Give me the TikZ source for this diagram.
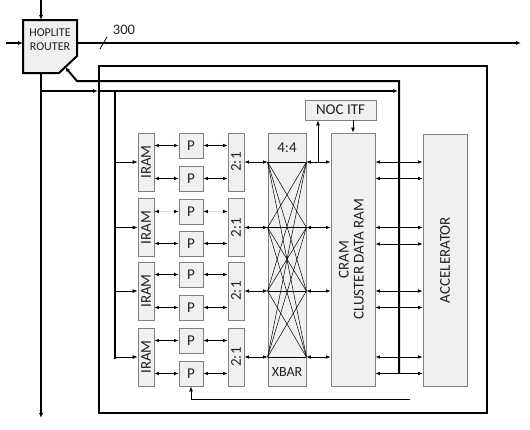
\documentclass[tikz,border=0pt]{standalone}
\usepackage{fontspec}
\setmainfont{Carlito}
\usetikzlibrary{arrows.meta,calc}
\definecolor{boxfill}{HTML}{F0F0F0}
\definecolor{boxline}{HTML}{7F7F7F}
\definecolor{txt}{HTML}{222222}
\begin{document}
\begin{tikzpicture}[x=1pt,y=-1pt,
  blk/.style={draw=boxline,fill=boxfill,line width=0.8pt,inner sep=0pt,text=txt,font=\fontsize{15}{16}\selectfont},
  thk/.style={line width=2pt},
  med/.style={line width=1.4pt},
  thn/.style={line width=0.8pt},
  tip/.style={-{Latex[length=5pt,width=4pt]}},
  dbl/.style={{Latex[length=4.5pt,width=3.6pt]}-{Latex[length=4.5pt,width=3.6pt]},line width=0.8pt},
  faint/.style={{Latex[length=4.5pt,width=3.6pt,black]}-{Latex[length=4.5pt,width=3.6pt,black]},line width=0.8pt,draw=black!12},
  lbl/.style={inner sep=0pt,text=txt}
]
\useasboundingbox (0,0) rectangle (530,429);
\fill[white] (0,0) rectangle (530,429);

% router
\draw[thk,fill=boxfill] (23,20) -- (77,20) -- (77,56) -- (59,73) -- (23,73) -- cycle;
\node[lbl,align=center,font=\fontsize{12}{14}\selectfont] (router) at (50,40) {HOPLITE\\ROUTER};
\coordinate (rtop) at (41,20);
\coordinate (rtopin) at (41,0);
\coordinate (rleft) at (23,43);
\coordinate (rleftin) at (6,43);
\coordinate (rright) at (77,43);
\coordinate (rout) at (521,43);
\coordinate (rbot) at (41,73);
\coordinate (rdown) at (41,418);
\coordinate (rin) at (65,67);
\coordinate (rbend) at (77,81);
\coordinate (tapcorner) at (399,81);
\coordinate (tapbot) at (399,373);
\coordinate (br) at (41,91);
\coordinate (brmid) at (98,91);
\coordinate (brend) at (398,91);
\coordinate (bus) at (115,91);
\coordinate (busbot) at (115,359);

\draw[thk,tip] (rtopin) -- (rtop);
\draw[thk,tip] (rleftin) -- (rleft);
\draw[thk,tip] (rright) -- (rout);
\draw[thk,tip] (rbot) -- (rdown);
\draw[thk,tip] (tapbot) -- (tapcorner) -- (rbend) -- (rin);
\draw[med,tip] (br) -- (brmid);
\draw[med,tip] (brmid) -- (brend);
\draw[thk] (bus) -- (busbot);

% 300 label
\coordinate (s1) at (100,49);
\coordinate (s2) at (107,37);
\draw[thn] (s1) -- (s2);
\node[lbl,font=\fontsize{14.5}{16}\selectfont] (n300) at (124,30) {300};

% outer box
\draw[thk] (99,66) rectangle (487,413);

% big blocks
\node[blk,minimum width=38pt,minimum height=253pt] (xbar) at (287,259.5) {};
\node[lbl,font=\fontsize{15}{16}\selectfont] (x44) at (287,148) {4:4};
\node[lbl,font=\fontsize{14}{16}\selectfont] (xbl) at (287,372) {XBAR};
\node[blk,minimum width=44pt,minimum height=253pt] (cram) at (353,259.5) {\rotatebox{90}{\begin{tabular}{@{}c@{}}CRAM\\[-1pt]CLUSTER DATA RAM\end{tabular}}};
\node[blk,minimum width=44pt,minimum height=252pt] (acc) at (445,260) {\rotatebox{90}{ACCELERATOR}};
\node[blk,minimum width=71pt,minimum height=20pt] (noc) at (340.5,110) {NOC ITF};

% groups
\foreach \g/\yc/\ya/\yb in {1/162/145.5/178.5,2/227.5/211.5/243.5,3/291/274.5/307.5,4/357/340.5/373.5}{
  \node[blk,minimum width=16pt,minimum height=58pt] (iram\g) at (146,\yc) {\rotatebox{90}{IRAM}};
  \node[blk,minimum width=16pt,minimum height=58pt] (mux\g) at (236,\yc) {\rotatebox{90}{2:1}};
  \node[blk,minimum width=24pt,minimum height=25pt] (pa\g) at (191,\ya) {P};
  \node[blk,minimum width=24pt,minimum height=25pt] (pb\g) at (191,\yb) {P};
  \draw[thn,tip] (iram\g.west -| bus) -- (iram\g.west);
  \ifnum\g=2
    \draw[faint] (pa\g.west -| iram\g.east) -- (pa\g.west);
    \draw[faint] (pa\g.east) -- (pa\g.east -| mux\g.west);
  \else
    \draw[dbl] (pa\g.west -| iram\g.east) -- (pa\g.west);
    \draw[dbl] (pa\g.east) -- (pa\g.east -| mux\g.west);
  \fi
  \draw[dbl] (pb\g.west -| iram\g.east) -- (pb\g.west);
  \draw[dbl] (pb\g.east) -- (pb\g.east -| mux\g.west);
  \draw[dbl] (mux\g.east) -- (mux\g.east -| xbar.west);
  \draw[dbl] (mux\g.east -| xbar.east) -- (mux\g.east -| cram.west);
  \draw[dbl] (mux\g.east -| cram.east) -- (mux\g.east -| acc.west);
  \draw[dbl] ($(mux\g.east -| cram.east)+(0,16.5)$) -- ($(mux\g.east -| acc.west)+(0,16.5)$);
}

% crossbar wiring
\foreach \i in {1,...,4}{
  \foreach \j in {1,...,4}{
    \draw[line width=0.5pt] (xbar.west |- mux\i.east) -- (xbar.east |- mux\j.east);
  }
}

% tap line over CRAM-ACC links (redraw on top)
\draw[thk] (tapbot) -- (tapcorner);

% NOC ITF links
\coordinate (nup) at (318,162);
\draw[thn,tip] (nup) -- (nup |- noc.south);
\draw[thn,tip] (noc.south -| cram.north) -- (cram.north);

% feedback to bottom P
\coordinate (fb) at (410,399);
\draw[thn,tip] (fb) -- (fb -| pb4.south) -- (pb4.south);
\end{tikzpicture}
\end{document}
